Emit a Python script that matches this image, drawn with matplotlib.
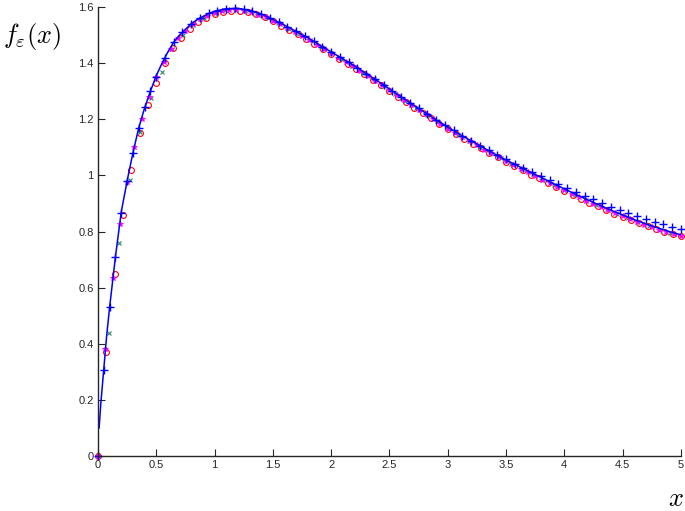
import numpy as np
import matplotlib
matplotlib.use("Agg")
import matplotlib.pyplot as plt
from matplotlib.ticker import FormatStrFormatter

plt.rcParams['mathtext.fontset'] = 'cm'
plt.rcParams['font.family'] = ['Liberation Sans', 'DejaVu Sans']

# true density (solid blue line)
x_true = [0.01, 0.025, 0.05, 0.075, 0.1, 0.15, 0.2, 0.25, 0.3, 0.35, 0.4, 0.45,
          0.5, 0.55, 0.6, 0.65, 0.7, 0.75, 0.8, 0.85, 0.9, 0.95, 1.0, 1.1, 1.2,
          1.3, 1.4, 1.5, 1.6, 1.7, 1.8, 1.9, 2.0, 2.1, 2.2, 2.3, 2.4, 2.5, 2.6,
          2.7, 2.8, 2.9, 3.0, 3.1, 3.2, 3.3, 3.4, 3.5, 3.6, 3.7, 3.8, 3.9, 4.0,
          4.1, 4.2, 4.3, 4.4, 4.5, 4.6, 4.7, 4.8, 4.9, 5.0]
y_true = [0.10, 0.19, 0.31, 0.43, 0.53, 0.71, 0.87, 0.98, 1.08, 1.17, 1.24, 1.30,
          1.355, 1.40, 1.44, 1.475, 1.50, 1.52, 1.54, 1.555, 1.566, 1.577, 1.585,
          1.594, 1.595, 1.588, 1.575, 1.556, 1.535, 1.513, 1.49, 1.465, 1.44,
          1.415, 1.39, 1.363, 1.336, 1.308, 1.28, 1.252, 1.225, 1.198, 1.172,
          1.147, 1.123, 1.10, 1.077, 1.055, 1.034, 1.013, 0.993, 0.972, 0.952,
          0.932, 0.913, 0.894, 0.876, 0.859, 0.842, 0.827, 0.813, 0.80, 0.788]

# estimate 1 (red circles)
x_circ = np.linspace(0, 5, 71)
y_circ = [0.0, 0.37, 0.65, 0.86, 1.02, 1.15, 1.25, 1.33, 1.40, 1.455, 1.49,
          1.52, 1.545, 1.56, 1.575, 1.582, 1.586, 1.587, 1.582, 1.574, 1.563,
          1.549, 1.534, 1.519, 1.503, 1.486, 1.469, 1.451, 1.433, 1.415, 1.397,
          1.379, 1.360, 1.341, 1.321, 1.301, 1.281, 1.261, 1.241, 1.222, 1.203,
          1.183, 1.165, 1.147, 1.130, 1.113, 1.096, 1.080, 1.064, 1.048, 1.033,
          1.018, 1.003, 0.989, 0.974, 0.959, 0.945, 0.931, 0.917, 0.903, 0.890,
          0.877, 0.864, 0.852, 0.840, 0.829, 0.818, 0.808, 0.799, 0.790, 0.783]

# estimate 2 (green crosses)
x_grn = np.linspace(0, 5, 56)
y_grn = [0.0, 0.44, 0.76, 0.985, 1.155, 1.275, 1.37, 1.45, 1.50, 1.537, 1.562,
         1.58, 1.588, 1.59, 1.586, 1.576, 1.561, 1.542, 1.523, 1.503, 1.481,
         1.459, 1.436, 1.413, 1.391, 1.366, 1.342, 1.317, 1.291, 1.266, 1.241,
         1.216, 1.192, 1.168, 1.145, 1.123, 1.102, 1.081, 1.061, 1.042, 1.022,
         1.004, 0.985, 0.966, 0.948, 0.930, 0.912, 0.895, 0.879, 0.863, 0.847,
         0.833, 0.819, 0.807, 0.795, 0.784]

# estimate 3 (magenta stars)
x_mag = np.linspace(0, 5, 81)
y_mag = [0.0, 0.38, 0.635, 0.826, 0.975, 1.10, 1.20, 1.28, 1.35, 1.405, 1.452,
         1.489, 1.515, 1.539, 1.556, 1.569, 1.580, 1.586, 1.589, 1.590, 1.587,
         1.581, 1.573, 1.563, 1.551, 1.538, 1.525, 1.511, 1.497, 1.482, 1.466,
         1.451, 1.435, 1.419, 1.404, 1.388, 1.372, 1.355, 1.338, 1.321, 1.303,
         1.286, 1.268, 1.250, 1.234, 1.217, 1.200, 1.183, 1.167, 1.151, 1.136,
         1.121, 1.107, 1.092, 1.078, 1.064, 1.050, 1.037, 1.024, 1.011, 0.998,
         0.985, 0.972, 0.959, 0.947, 0.935, 0.922, 0.910, 0.899, 0.887, 0.875,
         0.865, 0.854, 0.843, 0.833, 0.824, 0.815, 0.806, 0.798, 0.790, 0.783]

# estimate 4 (blue plus)
x_plus = np.concatenate([np.linspace(0, 0.5, 11), np.linspace(0.575, 5.0, 60)])
y_plus = [0.0, 0.305, 0.53, 0.708, 0.866, 0.98, 1.079, 1.168, 1.245, 1.30, 1.352,
          1.42, 1.475, 1.51, 1.54, 1.561, 1.577, 1.587, 1.594, 1.595, 1.592,
          1.585, 1.575, 1.561, 1.546, 1.530, 1.513, 1.496, 1.478, 1.459, 1.44,
          1.421, 1.403, 1.383, 1.363, 1.343, 1.322, 1.301, 1.28, 1.259, 1.239,
          1.218, 1.198, 1.179, 1.16, 1.141, 1.123, 1.106, 1.089, 1.072, 1.057,
          1.042, 1.027, 1.012, 0.998, 0.983, 0.969, 0.955, 0.941, 0.928, 0.915,
          0.902, 0.889, 0.877, 0.865, 0.854, 0.844, 0.834, 0.825, 0.816, 0.808]

fig = plt.figure(figsize=(6.85, 5.11), dpi=100)
ax = fig.add_axes([0.143, 0.1076, 0.851, 0.8787])

ax.plot(x_circ, y_circ, 'o', color='red', mfc='none', ms=4.2, mew=0.8, clip_on=False)
ax.plot(x_grn, y_grn, 'x', color='#2e8b57', ms=3.5, mew=0.8, clip_on=False)
ax.plot(x_mag, y_mag, '*', color='magenta', ms=4, mew=0.6, clip_on=False)
ax.plot(x_true, y_true, '-', color='blue', lw=1.1)
ax.plot(x_plus, y_plus, '+', color='blue', ms=5.5, mew=1.0, clip_on=False)

ax.set_xlim(0, 5)
ax.set_ylim(0, 1.6)
ax.set_xticks(np.arange(0, 5.01, 0.5))
ax.set_yticks(np.arange(0, 1.61, 0.2))
ax.xaxis.set_major_formatter(FormatStrFormatter('%g'))
ax.yaxis.set_major_formatter(FormatStrFormatter('%g'))
ax.spines['top'].set_visible(False)
ax.spines['right'].set_visible(False)
for s in ['left', 'bottom']:
    ax.spines[s].set_color('#262626')
    ax.spines[s].set_linewidth(1.0)
ax.tick_params(direction='in', length=5, width=0.8, labelsize=8, colors='#262626', pad=3)

fig.text(0.005, 0.915, r'$f_\varepsilon(x)$', fontsize=19)
fig.text(0.975, 0.01, r'$x$', fontsize=19)

fig.savefig('out.png', dpi=100)
